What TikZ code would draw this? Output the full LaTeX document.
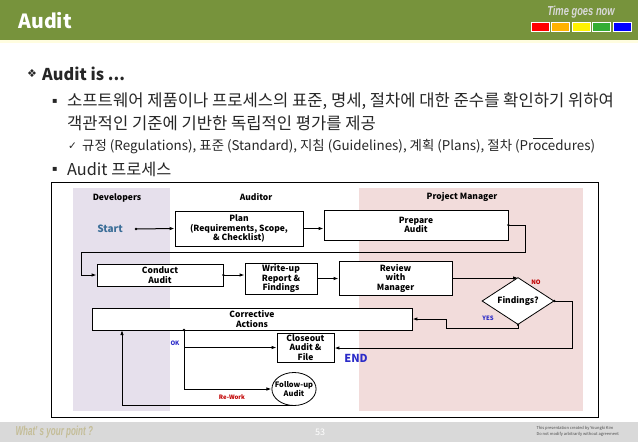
\documentclass[tikz,border=0pt]{standalone}
\usepackage{fontspec}
\setmainfont{Noto Sans CJK KR}
\newfontfamily\symfont{DejaVu Sans}
\newfontfamily\headfont{Liberation Sans}
\usepackage{tikz}
\usetikzlibrary{arrows.meta,shapes.geometric,calc}

\definecolor{hdgreen}{HTML}{77933C}
\definecolor{devlane}{HTML}{E6E0EC}
\definecolor{pmlane}{HTML}{F2DCDB}
\definecolor{footgrey}{HTML}{D9D9D9}
\definecolor{pointtan}{HTML}{C4BD97}
\definecolor{lblblue}{HTML}{2B2BC8}
\definecolor{lblred}{HTML}{C00000}
\definecolor{startblue}{HTML}{3B6E98}
\definecolor{bodytext}{HTML}{262626}

\begin{document}
\begin{tikzpicture}[x=1pt,y=-1pt,
    box/.style={draw, fill=white, line width=0.8pt, inner sep=0pt, align=center,
      font=\fontsize{8.5}{9.5}\selectfont\bfseries},
    flow/.style={line width=1pt, -{Latex[length=5pt,width=3.5pt]}},
    lanetitle/.style={font=\fontsize{8.5}{10}\selectfont\bfseries},
    tag/.style={font=\fontsize{6}{7}\selectfont\bfseries},
    body/.style={anchor=west, inner sep=0pt, text=bodytext}]
    \useasboundingbox (0,0) rectangle (638,442);

    % header and footer bands
    \fill[hdgreen] (0,0) rectangle (638,40);
    \fill[yellow!12] (0,40) rectangle (638,43);
    \node[anchor=west, text=white, font=\fontsize{19.5}{22}\selectfont\bfseries] (title) at (15,21) {Audit};
    \node[text=footgrey, font=\headfont\fontsize{13}{14}\selectfont\bfseries\itshape] (motto) at (581,12)
        {\scalebox{0.72}[1]{Time goes now}};
    \foreach \c [count=\i from 0] in {red, orange!60!yellow, yellow, green!60!black!80, blue}
        \filldraw[fill=\c, draw=white, line width=0.6pt] (531+\i*20.5,22) rectangle ++(18,9);
    \fill[footgrey] (0,422) rectangle (638,442);
    \node[anchor=west, text=pointtan, font=\headfont\fontsize{13}{14}\selectfont\bfseries\itshape] (point) at (12,432)
        {\scalebox{0.62}[1]{What’ s your point ?}};
    \node[text=white, font=\fontsize{9}{10}\selectfont] (page) at (320,432) {53};
    \node[anchor=west, align=left, text=black!70, font=\fontsize{4}{6}\selectfont] (note) at (533,431)
        {This presentation created by Youngki Kim\\Do not modify arbitrarily without agreement};

    % bullet text
    \node[body, font=\symfont\fontsize{11}{12}\selectfont] (b0) at (27,74) {❖};
    \node[body, font=\fontsize{16.3}{20}\selectfont\bfseries] (t0) at (42,74) {Audit is ...};
    \node[body, font=\symfont\fontsize{8}{10}\selectfont] (b1) at (52,101) {▪};
    \node[body, font=\fontsize{16.6}{18}\selectfont] (t1) at (67,101)
        {소프트웨어 제품이나 프로세스의 표준, 명세, 절차에 대한 준수를 확인하기 위하여};
    \node[body, font=\fontsize{16.6}{18}\selectfont] (t2) at (67,123)
        {객관적인 기준에 기반한 독립적인 평가를 제공};
    \node[body, font=\symfont\fontsize{10.5}{12}\selectfont] (b2) at (68,146) {✓};
    \node[body, font=\fontsize{13.4}{15}\selectfont] (t3) at (82,146)
        {규정 (Regulations), 표준 (Standard), 지침 (Guidelines), 계획 (Plans), 절차 (Pr\rlap{\rule[0.95em]{1.45em}{0.5pt}}ocedures)};
    \node[body, font=\symfont\fontsize{8}{10}\selectfont] (b3) at (52,169) {▪};
    \node[body, font=\fontsize{16.3}{18}\selectfont] (t4) at (67,169) {Audit 프로세스};

    % swim lanes
    \draw[line width=1pt] (51,182) rectangle (598,417);
    \fill[devlane] (73,188) rectangle (170,411);
    \fill[pmlane] (359,188) rectangle (583,411);
    \node[lanetitle] (dev) at (117,198) {Developers};
    \node[lanetitle] (aud) at (256,197) {Auditor};
    \node[lanetitle] (pm) at (462,197) {Project Manager};

    % process steps
    \node[box, minimum width=128, minimum height=35] (plan) at (239,228.5)
        {Plan\\(Requirements, Scope,\\\& Checklist)};
    \node[box, minimum width=184, minimum height=30] (prep) at (416,225) {Prepare\\Audit};
    \node[box, minimum width=126, minimum height=22] (conduct) at (160,275) {Conduct\\Audit};
    \node[box, minimum width=72, minimum height=31] (write) at (281,278.5) {Write-up\\Report \&\\Findings};
    \node[box, minimum width=113, minimum height=34] (review) at (395.5,278) {Review\\with\\Manager};
    \node[box, diamond, aspect=1.53, minimum width=72, minimum height=47] (find) at (518,301) {Findings?};
    \node[box, minimum width=320, minimum height=22] (correct) at (252,319) {Corrective\\Actions};
    \node[box, minimum width=57, minimum height=29] (close) at (305.5,347.5) {Closeout\\Audit \&\\File};
    \node[box, ellipse, inner xsep=-3.5pt, minimum width=37, minimum height=33,
        font=\fontsize{7.5}{8.5}\selectfont\bfseries] (follow) at (294,389) {Follow-up\\Audit};

    \node[text=startblue, font=\fontsize{10}{12}\selectfont\bfseries] (start) at (110,229) {Start};
    \node[text=lblblue, font=\fontsize{11}{12}\selectfont\bfseries] (end) at (356,358) {END};
    \node[tag, text=lblred] (no) at (536,282) {NO};
    \node[tag, text=lblblue] (yes) at (488,318) {YES};
    \node[tag, text=lblblue] (ok) at (175,343) {OK};
    \node[tag, text=lblred] (rework) at (232,397) {Re-Work};

    \coordinate (s0) at (136,229);
    \coordinate (k1) at (525,252);
    \coordinate (k2) at (81,252);
    \coordinate (n1) at (572,348);
    \coordinate (y1) at (446,328);
    \coordinate (j0) at (184,330);
    \coordinate (rw) at (122,330);

    % connectors
    \draw[flow] (s0) -- (plan.west);
    \draw[flow] (plan.east) -- (plan.east -| prep.west);
    \draw[flow] (prep.east) -| (k1) -- (k2) |- (conduct.west);
    \draw[flow] (conduct.east) -- (conduct.east -| write.west);
    \draw[flow] (write.east) -- (write.east -| review.west);
    \draw[flow] (review.east) -- (review.east -| find.north);
    \draw[flow] (find.east) -| (n1) -- (n1 -| close.east);
    \draw[flow] (find.south) |- (y1) |- (correct.east);
    \draw[flow] (j0) |- (close.west);
    \draw[flow] (j0) |- (follow.west);
    \draw[flow] (follow.south) -| (rw);
    \foreach \p in {s0,prep.east,conduct.east,find.east,find.south,j0}
        {\fill (\p) circle (1.3pt);}
\end{tikzpicture}
\end{document}
